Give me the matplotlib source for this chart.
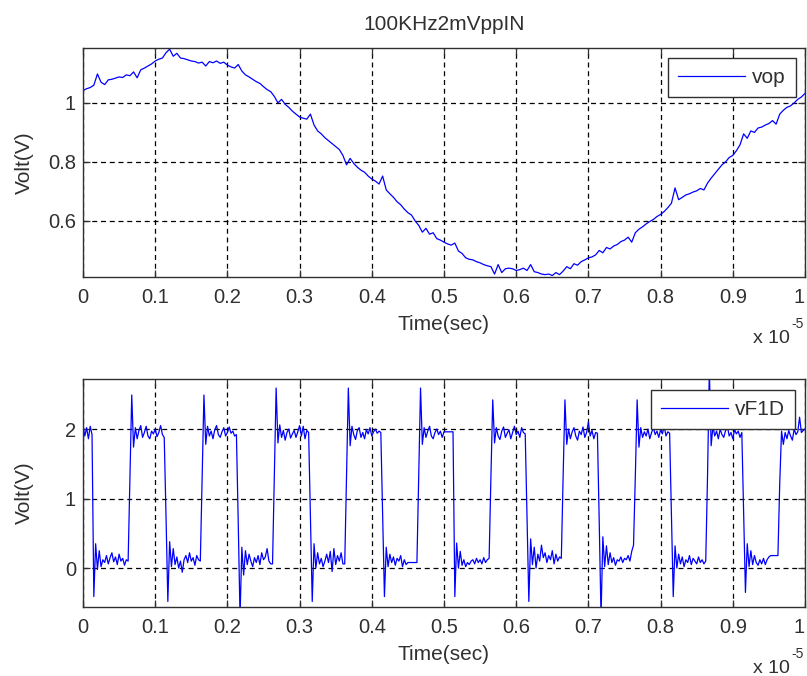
import numpy as np
import matplotlib
matplotlib.use("Agg")
import matplotlib.pyplot as plt

plt.rcParams["font.family"] = ["Liberation Sans", "DejaVu Sans"]

TEXT = "#303030"
BLUE = "#0000ff"

# time axis in units of 1e-5 s
xticks = [0, 0.1, 0.2, 0.3, 0.4, 0.5, 0.6, 0.7, 0.8, 0.9, 1]
xticklabels = ["0", "0.1", "0.2", "0.3", "0.4", "0.5", "0.6", "0.7", "0.8", "0.9", "1"]

# vop, sampled every 0.005e-5 s
vop = [
    1.042, 1.048, 1.052, 1.060, 1.098, 1.070, 1.062, 1.078, 1.080, 1.084,
    1.088, 1.086, 1.095, 1.092, 1.105, 1.085, 1.112, 1.118, 1.125, 1.132,
    1.142, 1.148, 1.152, 1.170, 1.182, 1.158, 1.168, 1.152, 1.150, 1.146,
    1.142, 1.140, 1.135, 1.138, 1.125, 1.140, 1.136, 1.142, 1.134, 1.138,
    1.128, 1.122, 1.118, 1.130, 1.108, 1.095, 1.088, 1.080, 1.072, 1.066,
    1.055, 1.045, 1.038, 1.022, 1.000, 1.012, 0.995, 0.985, 0.972, 0.962,
    0.952, 0.948, 0.945, 0.962, 0.925, 0.905, 0.895, 0.882, 0.872, 0.862,
    0.852, 0.842, 0.822, 0.790, 0.812, 0.795, 0.782, 0.772, 0.765, 0.752,
    0.742, 0.735, 0.725, 0.752, 0.705, 0.692, 0.680, 0.665, 0.655, 0.640,
    0.628, 0.620, 0.600, 0.585, 0.562, 0.575, 0.555, 0.560, 0.540, 0.535,
    0.528, 0.522, 0.518, 0.525, 0.498, 0.490, 0.475, 0.470, 0.468, 0.462,
    0.458, 0.452, 0.448, 0.445, 0.420, 0.452, 0.425, 0.438, 0.440, 0.438,
    0.432, 0.435, 0.440, 0.432, 0.452, 0.428, 0.425, 0.420, 0.418, 0.420,
    0.415, 0.425, 0.418, 0.430, 0.445, 0.438, 0.455, 0.450, 0.462, 0.468,
    0.475, 0.478, 0.485, 0.500, 0.492, 0.510, 0.505, 0.515, 0.520, 0.530,
    0.535, 0.545, 0.528, 0.560, 0.572, 0.580, 0.590, 0.598, 0.605, 0.615,
    0.622, 0.632, 0.645, 0.660, 0.712, 0.672, 0.680, 0.688, 0.692, 0.698,
    0.702, 0.710, 0.705, 0.728, 0.745, 0.760, 0.775, 0.790, 0.800, 0.815,
    0.822, 0.838, 0.858, 0.895, 0.880, 0.905, 0.900, 0.915, 0.918, 0.925,
    0.930, 0.940, 0.928, 0.962, 0.975, 0.985, 0.990, 1.000, 1.012, 1.020,
    1.032,
]

# vF1D, sampled every 0.0025e-5 s; one row per half period
vf1d = [
    2.05, 1.90, 2.02, 1.86, 2.04, 1.92,
    -0.41, 0.35, -0.02, 0.25, 0.02, 0.12, 0.08, 0.18, 0.06, 0.15, 0.22, 0.09, 0.16, 0.05, 0.20, 0.10, 0.14, 0.04, 0.12, 0.10,
    1.32, 2.49, 1.74, 2.02, 1.86, 1.98, 2.05, 1.88, 1.95, 2.04, 1.90, 1.86, 1.97, 1.93, 2.00, 1.89, 1.95, 2.05, 1.92, 1.88,
    0.74, -0.48, 0.38, 0.02, 0.28, 0.05, 0.16, 0.00, 0.10, -0.06, 0.12, 0.18, 0.08, 0.22, 0.10, 0.15, 0.04, 0.18, 0.12, 0.10,
    1.27, 2.49, 1.78, 2.04, 1.90, 1.97, 1.86, 1.99, 2.05, 1.92, 1.88, 1.96, 2.02, 1.90, 1.95, 2.03, 1.94, 1.97, 1.90, 1.92,
    0.66, -0.70, 0.30, -0.10, 0.25, 0.05, 0.20, 0.10, 0.02, 0.15, 0.08, 0.18, 0.05, 0.22, 0.12, 0.16, 0.28, 0.10, 0.06, 0.06,
    1.29, 2.59, 1.80, 2.06, 1.88, 1.98, 1.84, 1.95, 2.00, 1.87, 1.93, 1.98, 1.88, 1.96, 2.05, 1.90, 2.04, 1.86, 1.98, 1.95,
    0.76, -0.48, 0.35, 0.00, 0.22, 0.06, 0.14, 0.02, 0.10, 0.20, 0.08, 0.24, -0.05, 0.28, 0.05, 0.18, 0.10, 0.22, 0.06, 0.06,
    1.32, 2.59, 1.76, 2.04, 1.92, 1.85, 1.98, 2.02, 1.88, 1.95, 1.86, 1.99, 1.93, 2.02, 1.90, 1.96, 2.00, 1.94, 1.97, 1.95,
    0.78, -0.41, 0.30, 0.02, 0.20, 0.08, 0.16, 0.04, 0.14, 0.10, 0.18, 0.02, 0.12, 0.05, 0.08, 0.08, 0.08, 0.08, 0.08, 0.08,
    1.34, 2.59, 1.78, 2.02, 1.88, 1.97, 2.04, 1.90, 1.86, 1.95, 2.00, 1.92, 1.97, 1.88, 1.96, 1.96, 1.96, 1.96, 1.96, 1.96,
    -0.41, 0.36, 0.00, 0.24, 0.04, 0.12, 0.02, 0.08, 0.05, 0.10, 0.12, 0.06, 0.14, 0.08, 0.12, 0.06, 0.15, 0.08, 0.12, 0.14,
    1.32, 2.42, 1.80, 2.02, 1.90, 1.85, 1.97, 2.03, 1.88, 1.94, 1.99, 1.86, 1.95, 2.04, 1.92, 1.97, 1.88, 2.02, 1.95, 1.93,
    0.74, -0.48, 0.42, 0.05, 0.30, 0.00, 0.20, 0.10, 0.33, 0.15, 0.22, 0.08, 0.18, 0.12, 0.25, 0.06, 0.20, 0.10, 0.16, 0.14,
    1.32, 2.42, 1.78, 2.00, 1.86, 1.96, 2.02, 1.90, 1.84, 1.97, 1.92, 2.03, 1.88, 1.95, 2.10, 1.90, 1.98, 1.86, 1.95, 1.94,
    0.66, -0.70, 0.45, 0.02, 0.32, 0.05, 0.22, 0.08, 0.15, 0.04, 0.12, 0.10, 0.16, 0.08, 0.14, 0.12, 0.18, 0.10, 0.24, 0.33,
    1.32, 2.42, 1.74, 2.02, 1.88, 1.96, 1.90, 2.00, 1.86, 1.95, 2.02, 1.92, 1.97, 1.88, 1.99, 1.93, 2.04, 1.90, 1.96, 1.94,
    0.78, -0.41, 0.32, 0.00, 0.20, 0.06, 0.16, 0.02, 0.12, 0.08, 0.18, 0.05, 0.14, 0.10, 0.06, 0.16, 0.08, 0.12, 0.06, 0.10,
    1.32, 2.85, 1.76, 2.04, 1.90, 1.97, 1.86, 2.00, 1.92, 1.88, 1.98, 2.04, 1.90, 1.95, 1.86, 1.99, 1.93, 1.97, 1.88, 1.95,
    0.78, -0.35, 0.35, 0.02, 0.25, 0.05, 0.18, 0.08, 0.04, 0.12, 0.06, 0.14, 0.05, 0.12, 0.16, 0.18, 0.18, 0.18, 0.18, 0.18,
    1.22, 1.97, 1.78, 1.95, 1.86, 1.98, 1.90, 1.84, 2.00, 1.92, 1.96, 2.17, 1.95, 1.98, 2.00,
]

t_vop = np.linspace(0, 1, len(vop))
t_vf1d = np.linspace(0, 1, len(vf1d))

fig = plt.figure(figsize=(8.07, 6.76), dpi=100)
ax1 = fig.add_axes([83 / 807, 1 - 277 / 676, 722 / 807, 229 / 676])
ax2 = fig.add_axes([83 / 807, 1 - 607 / 676, 722 / 807, 228 / 676])


def style(ax, yticks, ylim, anchor):
    ax.set_xlim(0, 1)
    ax.set_ylim(*ylim)
    ax.set_xticks(xticks)
    ax.set_xticklabels(xticklabels)
    ax.set_yticks(yticks)
    ax.set_yticklabels([f"{v:g}" for v in yticks])
    ax.tick_params(direction="in", length=5, width=0.9, colors=TEXT,
                   labelsize=14.5, top=True, right=True)
    ax.tick_params(axis="x", pad=8)
    ax.tick_params(axis="y", pad=5)
    # keep the last x label inside the canvas
    ax.xaxis.get_major_ticks()[-1].label1.set_horizontalalignment("right")
    for s in ax.spines.values():
        s.set_color(TEXT)
        s.set_linewidth(1.0)
    ax.grid(True, color="black", linestyle=(0, (4, 3)), linewidth=0.9)
    ax.set_axisbelow(True)
    ax.set_xlabel("Time(sec)", fontsize=15, color=TEXT)
    ax.set_ylabel("Volt(V)", fontsize=15, color=TEXT)
    ax.xaxis.set_label_coords(0.5, -0.166)
    ax.yaxis.set_label_coords(-0.068, 0.5)
    ax.xaxis.label.set_va("top")
    # MATLAB-style exponent note under the right end of the x axis
    ax.text(0.979, -0.289, "x 10", transform=ax.transAxes, ha="right",
            va="baseline", fontsize=14, color=TEXT)
    ax.text(0.981, -0.222, "-5", transform=ax.transAxes, ha="left",
            va="baseline", fontsize=10, color=TEXT)
    leg = ax.legend(loc="upper right", bbox_to_anchor=anchor, borderaxespad=0,
                    fontsize=15, handlelength=3.2, handletextpad=0.35,
                    borderpad=0.48, fancybox=False, framealpha=1)
    leg.get_frame().set_edgecolor(TEXT)
    leg.get_frame().set_linewidth(1.0)
    for txt in leg.get_texts():
        txt.set_color(TEXT)


ax1.plot(t_vop, vop, color=BLUE, linewidth=0.9, label="vop")
style(ax1, [0.6, 0.8, 1], (0.41, 1.186), (0.9875, 0.956))
ax1.set_title("100KHz2mVppIN", fontsize=15, color=TEXT, pad=13)

ax2.plot(t_vf1d, vf1d, color=BLUE, linewidth=0.9, label="vF1D")
style(ax2, [0, 1, 2], (-0.56, 2.72), (0.986, 0.952))

fig.savefig("out.png", dpi=100)
